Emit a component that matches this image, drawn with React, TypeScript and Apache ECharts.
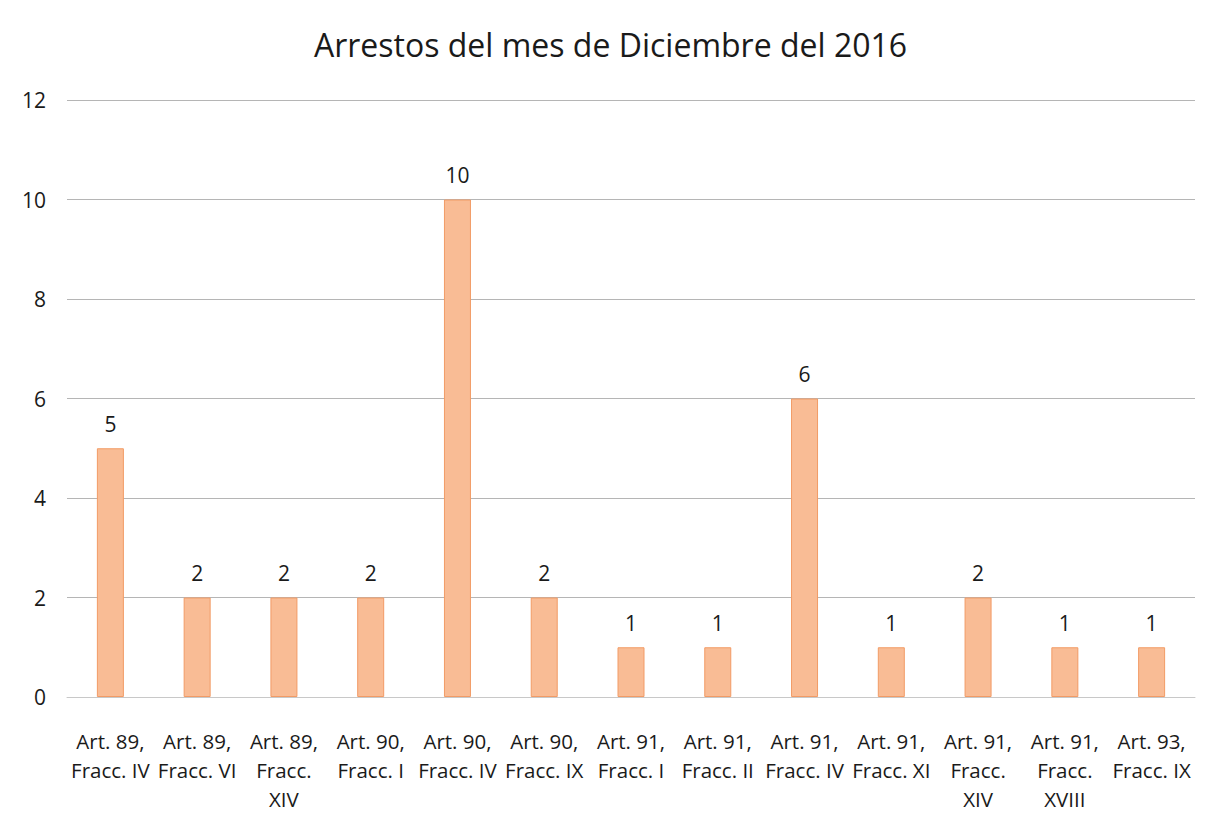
import React, { useEffect, useRef } from "react";
import * as echarts from "echarts";

const categories = [
  "Art. 89,\nFracc. IV",
  "Art. 89,\nFracc. VI",
  "Art. 89,\nFracc.\nXIV",
  "Art. 90,\nFracc. I",
  "Art. 90,\nFracc. IV",
  "Art. 90,\nFracc. IX",
  "Art. 91,\nFracc. I",
  "Art. 91,\nFracc. II",
  "Art. 91,\nFracc. IV",
  "Art. 91,\nFracc. XI",
  "Art. 91,\nFracc.\nXIV",
  "Art. 91,\nFracc.\nXVIII",
  "Art. 93,\nFracc. IX",
];
const values = [5, 2, 2, 2, 10, 2, 1, 1, 6, 1, 2, 1, 1];
const titleText = "Arrestos del mes de Diciembre del 2016";

export default function App() {
  const ref = useRef<HTMLDivElement>(null);
  useEffect(() => {
    if (!ref.current) return;
    const chart = echarts.init(ref.current, null, { renderer: "svg" });
    const font = "'Open Sans', 'Noto Sans', sans-serif";
    chart.setOption({
      animation: false,
      backgroundColor: "#ffffff",
      title: {
        text: titleText,
        left: "center",
        top: 15,
        textStyle: { fontFamily: font, fontSize: 32, fontWeight: "normal", color: "#1a1a1a" },
      },
      grid: { left: 59, right: 18, top: 92, bottom: 114, containLabel: false },
      xAxis: {
        type: "category",
        data: categories,
        axisLine: { show: true, lineStyle: { color: "#c8c8c8" } },
        axisTick: { show: false },
        axisLabel: {
          interval: 0,
          margin: 29,
          fontFamily: font,
          fontSize: 20.5,
          lineHeight: 29,
          color: "#1a1a1a",
        },
      },
      yAxis: {
        type: "value",
        min: 0,
        max: 12,
        interval: 2,
        axisLine: { show: false },
        axisTick: { show: false },
        axisLabel: { margin: 21, fontFamily: font, fontSize: 21, color: "#1a1a1a" },
        splitLine: { lineStyle: { color: "#b5b5b5", width: 1 } },
      },
      series: [
        {
          type: "bar",
          data: values,
          barWidth: 27,
          itemStyle: { color: "#F9BC95", borderColor: "#F29B66", borderWidth: 1 },
          label: {
            show: true,
            position: "top",
            distance: 14,
            fontFamily: font,
            fontSize: 21,
            color: "#1a1a1a",
          },
        },
      ],
    });
    return () => chart.dispose();
  }, []);
  return <div ref={ref} style={{ width: 1205, height: 805 }} />;
}
